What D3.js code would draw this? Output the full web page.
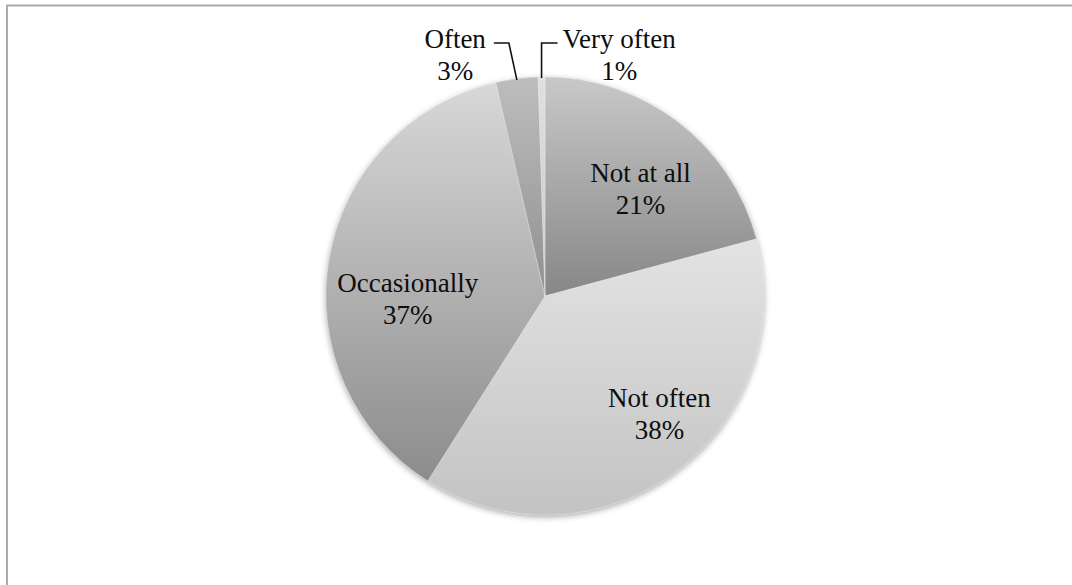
<!DOCTYPE html>
<html>
<head>
<meta charset="utf-8">
<script src="https://cdn.jsdelivr.net/npm/d3@7"></script>
<style>
  html, body { margin: 0; background: #fff; overflow: hidden; }
  svg { display: block; }
  text { font-family: "Liberation Serif", "DejaVu Serif", serif; font-size: 27px; fill: #0d0d0d; }
</style>
</head>
<body>
<div id="chart"></div>
<script>
// --> DATA
var categories = ["Not at all", "Not often", "Occasionally", "Often", "Very often"];
var shares = [20.8, 38.2, 37.4, 3.1, 0.5];   // percent of respondents
var shadesTop = ["#c8c8c8", "#e3e3e3", "#d8d8d8", "#bdbdbd", "#e0e0e0"];
var shadesBottom = ["#878787", "#c3c3c3", "#8c8c8c", "#909090", "#c9c9c9"];

var width = 1072,
    height = 585;

var cx = 545, cy = 296, radius = 219;

var svg = d3.select("#chart").append("svg")
    .attr("width", width)
    .attr("height", height);

// chart frame (right and bottom edges fall outside the window)
svg.append("rect")
    .attr("x", 7)
    .attr("y", 5.5)
    .attr("width", 1200)
    .attr("height", 800)
    .attr("fill", "none")
    .attr("stroke", "#a3a3a3")
    .attr("stroke-width", 1.8);

var defs = svg.append("defs");

var shadow = defs.append("filter")
    .attr("id", "pieShadow")
    .attr("x", "-10%").attr("y", "-10%")
    .attr("width", "120%").attr("height", "120%");
shadow.append("feDropShadow")
    .attr("dx", 0).attr("dy", 2)
    .attr("stdDeviation", 3)
    .attr("flood-color", "#000")
    .attr("flood-opacity", 0.35);

categories.forEach(function(c, i) {
    var g = defs.append("linearGradient")
        .attr("id", "grad" + i)
        .attr("x1", 0).attr("y1", 0)
        .attr("x2", 0).attr("y2", 1);
    g.append("stop").attr("offset", "0%").attr("stop-color", shadesTop[i]);
    g.append("stop").attr("offset", "100%").attr("stop-color", shadesBottom[i]);
});

var data = categories.map(function(c, i) {
    return { name: c, value: shares[i], index: i };
});

var pie = d3.pie()
    .sort(null)
    .value(function(d) { return d.value; });

var arcs = pie(data);

var arc = d3.arc()
    .innerRadius(0)
    .outerRadius(radius);

var labelArc = d3.arc()
    .innerRadius(radius * 0.65)
    .outerRadius(radius * 0.65);

var edgeArc = d3.arc()
    .innerRadius(radius)
    .outerRadius(radius);

var g = svg.append("g")
    .attr("transform", "translate(" + cx + "," + cy + ")");

// shadow underneath the whole pie
g.append("circle")
    .attr("r", radius)
    .attr("fill", "#bbb")
    .attr("filter", "url(#pieShadow)");

g.selectAll("path.slice")
    .data(arcs)
    .enter().append("path")
    .attr("class", "slice")
    .attr("d", arc)
    .attr("fill", function(d) { return "url(#grad" + d.index + ")"; })
    .attr("stroke", "rgba(255,255,255,0.45)")
    .attr("stroke-width", 0.6);

var pct = function(v) { return Math.round(v) + "%"; };

// label placement: inside labels near the centroid, small slices outside with leaders
var nudge = {
    "Not at all": [9, 7],
    "Not often": [30, 4],
    "Occasionally": [3, 28]
};

var inside = arcs.filter(function(d) { return d.value > 10; });
var outside = arcs.filter(function(d) { return d.value <= 10; });

inside.forEach(function(d) {
    var c = labelArc.centroid(d);
    var n = nudge[d.data.name] || [0, 0];
    var x = c[0] + n[0], y = c[1] + n[1];
    var t = g.append("text").attr("text-anchor", "middle");
    t.append("tspan").attr("x", x).attr("y", y - 7.5).text(d.data.name);
    t.append("tspan").attr("x", x).attr("y", y + 24.5).text(pct(d.data.value));
});

var leaderY = 43 - cy;
outside.forEach(function(d, i) {
    var e = edgeArc.centroid(d);
    var left = i === 0;
    var elbowX = left ? e[0] - 8 : e[0];
    var endX = left ? elbowX - 15 : elbowX + 16;

    g.append("path")
        .attr("d", d3.line()([[e[0], e[1] + 1], [elbowX, leaderY], [endX, leaderY]]))
        .attr("fill", "none")
        .attr("stroke", "#111")
        .attr("stroke-width", 1.6);

    var t = g.append("text").attr("text-anchor", left ? "end" : "start");
    var tx = left ? endX - 8 : endX + 5;
    var t1 = t.append("tspan").attr("x", tx).attr("y", leaderY + 5).text(d.data.name);
    // centre the percentage under the name
    var w = t1.node().getComputedTextLength();
    var mid = left ? tx - w / 2 : tx + w / 2;
    g.append("text")
        .attr("text-anchor", "middle")
        .attr("x", mid)
        .attr("y", leaderY + 37)
        .text(pct(d.data.value));
});
</script>
</body>
</html>
